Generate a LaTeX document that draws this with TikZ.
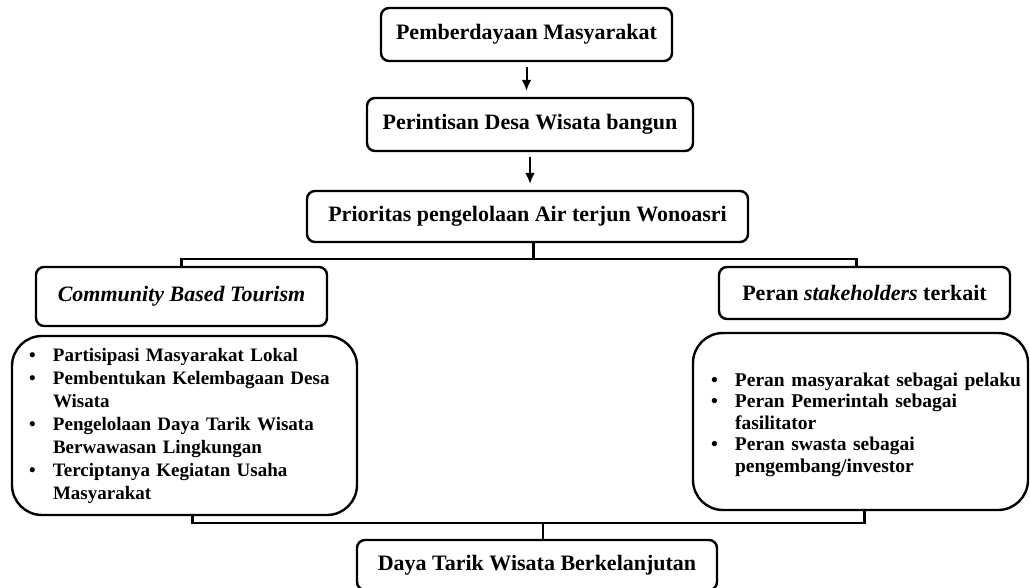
\documentclass[tikz,border=0pt]{standalone}
\usepackage{fontspec}
\setmainfont{Liberation Serif}
\usetikzlibrary{arrows.meta,calc,positioning}
\newcommand{\butir}{\makebox[24pt][l]{\textbullet}}

\begin{document}
\begin{tikzpicture}[x=1pt,y=-1pt]
        \tikzstyle{box}=[draw,line width=2.4pt,rounded corners=8pt,inner sep=0pt,font=\fontsize{22}{26}\selectfont\bfseries,align=center]
        \tikzstyle{listbox}=[draw,line width=2.4pt,rounded corners=30pt,inner ysep=0pt,align=left]
        \tikzstyle{link}=[line width=2.4pt]
        \tikzstyle{arr}=[line width=2pt,-{Latex[length=11pt,width=10pt]},shorten <=5pt,shorten >=6pt]
        \useasboundingbox (0,0) rectangle (1030,588);
        \clip (0,0) rectangle (1030,588);
        % Top chain
        \node[box,minimum width=291pt,minimum height=53pt] (pm) at (526.5,34.5) {Pemberdayaan Masyarakat};
        \node[box,minimum width=326pt,minimum height=53pt] (pdw) at (530,124.5) {Perintisan Desa Wisata bangun};
        \node[box,minimum width=441pt,minimum height=51pt] (pp) at (527.5,216.5) {Prioritas pengelolaan Air terjun Wonoasri};
        % Two branches
        \node[box,minimum width=291pt,minimum height=59pt] (cbt) at (181.5,296.5) {\textit{Community Based Tourism}};
        \node[box,minimum width=291pt,minimum height=52pt] (psk) at (864.5,293) {Peran \textit{stakeholders} terkait};
        % Lists
        \node[listbox,font=\fontsize{19}{23}\selectfont\bfseries,minimum width=345pt,minimum height=179pt,inner xsep=17pt,text width=311pt] (cbtlist) at (184.5,425.5) {%
            \begin{tabular}{@{}l@{}l@{}}
            \butir & Partisipasi Masyarakat Lokal\\
            \butir & Pembentukan Kelembagaan Desa\\
                   & Wisata\\
            \butir & Pengelolaan Daya Tarik Wisata\\
                   & Berwawasan Lingkungan\\
            \butir & Terciptanya Kegiatan Usaha\\
                   & Masyarakat
            \end{tabular}};
        \node[listbox,font=\fontsize{19.5}{21.5}\selectfont\bfseries,minimum width=335pt,minimum height=177pt,inner xsep=18pt,text width=299pt] (psklist) at (860.5,421.5) {%
            \begin{tabular}{@{}l@{}l@{}}
            \rule{0pt}{22pt}\butir & Peran masyarakat sebagai pelaku\\
            \butir & Peran Pemerintah sebagai\\
                   & fasilitator\\
            \butir & Peran swasta sebagai\\
                   & pengembang/investor
            \end{tabular}};
        % Result
        \node[box,minimum width=360pt,minimum height=50pt] (dtw) at (537,565) {Daya Tarik Wisata Berkelanjutan};
        % Arrows
        \draw[arr] (pm.south) -- (pm.south |- pdw.north);
        \draw[arr] (pdw.south) -- (pdw.south |- pp.north);
        % Brackets
        \coordinate (jt) at ($(pp.south)+(6,16)$);
        \draw[link] (jt |- pp.south) -- (jt) -| (cbt.north);
        \draw[link] (jt) -| ($(psk.north)+(-8,0)$);
        \coordinate (jb) at ($(dtw.north)+(6,-16)$);
        \draw[link] ($(cbtlist.south)+(8,0)$) |- (jb) -| ($(psklist.south)+(4,0)$);
        \draw[link] (jb) -- (jb |- dtw.north);
\end{tikzpicture}
\end{document}
